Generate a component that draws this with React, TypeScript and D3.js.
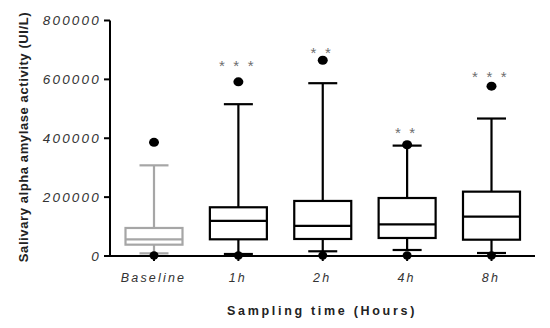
import React from "react";
import * as d3 from "d3";

const categories = ["Baseline", "1h", "2h", "4h", "8h"];
const lowerWhisker = [9000, 6800, 16000, 20400, 10200];
const q1 = [38500, 56700, 57800, 61200, 55400];
const median = [56700, 119000, 102000, 107700, 133600];
const q3 = [95200, 165500, 187000, 197000, 218600];
const upperWhisker = [308000, 515700, 587000, 375000, 467000];
const highOutlier = [386000, 591600, 665000, 378000, 577000];
const lowOutlier = [2000, 2000, 2000, 2000, 2000];
const significance = ["", "* * *", "* *", "* *", "* * *"];
const starLevel = [0, 659600, 703800, 431000, 622200];
const yTicks = [0, 200000, 400000, 600000, 800000];
const boxColors = ["#a6a6a6", "#000", "#000", "#000", "#000"];

const W = 550;
const H = 328;

export default function App() {
  const y = d3.scaleLinear().domain([0, 800000]).range([256, 20.5]);
  const x = d3.scalePoint<string>().domain(categories).range([154, 491.5]);
  const boxW = 57;
  const capW = 29;
  const axisX = 110;

  return (
    <svg width={W} height={H} style={{ position: "absolute", left: 0, top: 0 }}
      fontFamily="Liberation Sans, Arial, sans-serif">
      <rect width={W} height={H} fill="#fff" />
      {/* y axis */}
      <line x1={axisX} x2={axisX} y1={y(800000)} y2={y(0)} stroke="#000" strokeWidth={2} />
      {yTicks.map((t) => (
        <g key={t}>
          <line x1={axisX - 6} x2={axisX} y1={y(t)} y2={y(t)} stroke="#000" strokeWidth={2} />
          <text x={axisX - 9} y={y(t)} dy="0.36em" textAnchor="end" fontSize={13.5}
            fontStyle="italic" letterSpacing={2.2} fill="#333">
            {t}
          </text>
        </g>
      ))}
      {/* x axis */}
      <line x1={axisX - 1} x2={535} y1={y(0)} y2={y(0)} stroke="#000" strokeWidth={2} />
      {categories.map((c) => (
        <g key={c}>
          <line x1={x(c)} x2={x(c)} y1={y(0)} y2={y(0) + 5} stroke="#000" strokeWidth={2} />
          <text x={x(c)! - 0.5} y={277} dy="0.36em" textAnchor="middle" fontSize={12.5}
            fontStyle="italic" letterSpacing={2.2} fill="#333">
            {c}
          </text>
        </g>
      ))}
      {/* boxes */}
      {categories.map((c, i) => {
        const cx = x(c)!;
        const col = boxColors[i];
        return (
          <g key={c} stroke={col} strokeWidth={2.2} fill="none">
            <line x1={cx} x2={cx} y1={y(q3[i])} y2={y(upperWhisker[i])} />
            <line x1={cx} x2={cx} y1={y(q1[i])} y2={y(lowerWhisker[i])} />
            <line x1={cx - capW / 2} x2={cx + capW / 2} y1={y(upperWhisker[i])} y2={y(upperWhisker[i])} />
            <line x1={cx - capW / 2} x2={cx + capW / 2} y1={y(lowerWhisker[i])} y2={y(lowerWhisker[i])} />
            <rect x={cx - boxW / 2} y={y(q3[i])} width={boxW} height={y(q1[i]) - y(q3[i])} fill="#fff" />
            <line x1={cx - boxW / 2} x2={cx + boxW / 2} y1={y(median[i])} y2={y(median[i])} />
          </g>
        );
      })}
      {/* outliers */}
      {categories.map((c, i) => (
        <g key={c}>
          <ellipse cx={x(c)} cy={y(highOutlier[i])} rx={5} ry={4.5} fill="#000" />
          <ellipse cx={x(c)} cy={y(lowOutlier[i])} rx={4.5} ry={4.2} fill="#000" />
        </g>
      ))}
      {/* significance stars */}
      {categories.map((c, i) => (
        significance[i] ? (
          <text key={c} x={x(c)! - 1} y={y(starLevel[i])} dy="0.62em" textAnchor="middle"
            fontSize={15} letterSpacing={2.2} fill="#6e6e6e">
            {significance[i].split(" ").join("  ")}
          </text>
        ) : null
      ))}
      {/* axis titles */}
      <text transform={`translate(23,137) rotate(-90)`} textAnchor="middle" dy="0.36em"
        fontSize={13} fontWeight="bold" fill="#222" letterSpacing={0.6}>
        Salivary alpha amylase activity (UI/L)
      </text>
      <text x={322} y={310} dy="0.36em" textAnchor="middle" fontSize={12.5} fontWeight="bold"
        letterSpacing={2.7} fill="#222">
        Sampling time (Hours)
      </text>
    </svg>
  );
}
